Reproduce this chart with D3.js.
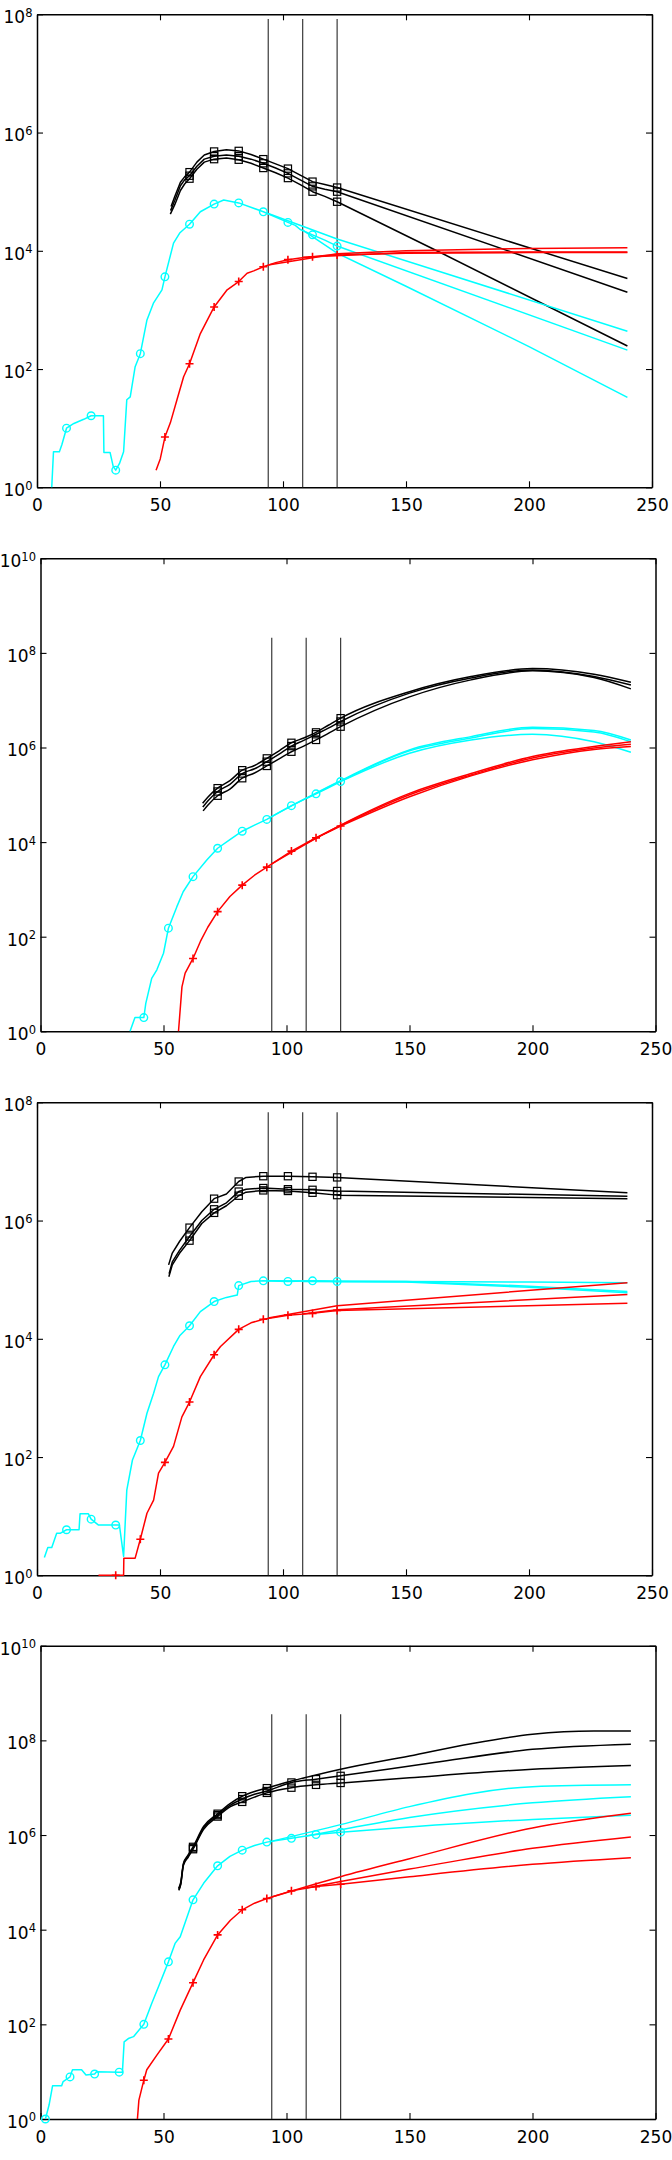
<!DOCTYPE html>
<html><head><meta charset="utf-8">
<script src="https://cdn.jsdelivr.net/npm/d3@7"></script>
<style>
body{margin:0;background:#fff}
svg{display:block}
text{font-family:"DejaVu Sans",sans-serif;fill:#000}
</style>
</head><body>
<svg id="c" width="672" height="2160"></svg>
<script>
// ---------------- DATA (values are log10 of y) ----------------
const xTicks = [0, 50, 100, 150, 200, 250];
const markerDays = [2, 12, 22, 32, 42, 52, 62, 72, 82, 92, 102, 112, 122];
const forecastDays = [94, 108, 122];
const yExp8 = [0, 2, 4, 6, 8];
const yExp10 = [0, 2, 4, 6, 8, 10];
const vlineTopExp = [7.92, 8.32, 7.83, 8.55];

// Panel 1
const p1Black = [
  [[54.5,4.75],[56,4.92],[58.3,5.16],[60,5.25],[62,5.33],[65,5.5],[68,5.62],[72,5.68],[77,5.71],[82,5.69],[87,5.63],[92,5.55],[97,5.47],[102,5.39],[107,5.28],[112,5.17],[117,5.12],[122,5.07],[240,3.53]],
  [[54.3,4.68],[56,4.85],[58.3,5.1],[60,5.2],[62,5.27],[65,5.43],[68,5.55],[72,5.60],[77,5.62],[82,5.60],[87,5.55],[92,5.48],[97,5.4],[102,5.31],[107,5.2],[112,5.09],[117,5.04],[122,5.0],[240,3.30]],
  [[54.2,4.62],[56,4.78],[58.3,5.02],[60,5.13],[62,5.22],[65,5.38],[68,5.5],[72,5.55],[77,5.57],[82,5.54],[87,5.48],[92,5.40],[97,5.32],[102,5.23],[107,5.12],[112,5.0],[117,4.92],[122,4.83],[165,3.95],[240,2.39]]
];
const p1Cyan = [[6,0],[6.7,0.6],[9.1,0.6],[10.1,0.72],[12,1.0],[15,1.08],[19,1.15],[22,1.21],[27,1.21],[27.2,0.59],[29.7,0.59],[31,0.35],[32,0.29],[33.5,0.4],[35.2,0.6],[36.5,1.48],[37.9,1.53],[39.9,2.04],[42,2.26],[44.7,2.83],[47.4,3.12],[50.8,3.34],[52,3.56],[55.5,4.13],[58,4.3],[62,4.45],[66.4,4.66],[72,4.79],[75.9,4.86],[82,4.81],[92,4.66],[102,4.48],[105,4.43],[107,4.36],[112,4.27],[117,4.18],[122,4.08]];
const p1CyanFc = [
  [[94,4.63],[122,4.20],[240,2.64]],
  [[108,4.35],[122,3.96],[150,3.40],[200,2.38],[240,1.52]],
  [[122,4.08],[240,2.32]]
];
const p1Red = [[48.4,0.29],[50.1,0.48],[52,0.85],[54.2,1.09],[56.9,1.48],[59.6,1.87],[62,2.09],[66.4,2.6],[72,3.05],[77.3,3.34],[82,3.48],[85.4,3.62],[88.1,3.66],[92,3.73],[97,3.8],[102,3.85],[107,3.88],[112,3.90],[117,3.92],[122,3.93]];
const p1RedFc = [
  [[94,3.76],[122,3.95],[150,4.0],[200,4.04],[240,4.05]],
  [[108,3.89],[150,3.97],[200,3.98],[240,3.98]],
  [[122,3.93],[150,3.96],[200,3.97],[240,3.97]]
];

// Panel 2
const p2Black = [
  [[65.9,4.82],[68,4.95],[72,5.14],[77,5.3],[82,5.52],[87,5.62],[92,5.77],[97,5.93],[102,6.10],[107,6.2],[112,6.32],[117,6.47],[122,6.62],[150,7.18],[175,7.5],[200,7.67],[225,7.55],[240,7.38]],
  [[66,4.74],[68,4.87],[72,5.07],[77,5.22],[82,5.45],[87,5.55],[92,5.70],[97,5.86],[102,6.03],[107,6.15],[112,6.28],[117,6.41],[122,6.55],[150,7.15],[175,7.47],[200,7.64],[225,7.5],[240,7.32]],
  [[66.1,4.66],[68,4.78],[72,4.98],[77,5.12],[82,5.35],[87,5.46],[92,5.61],[97,5.76],[102,5.91],[107,6.03],[112,6.16],[117,6.30],[122,6.44],[150,7.07],[175,7.43],[200,7.62],[225,7.48],[240,7.24]]
];
const p2Cyan = [[36.4,0],[38.4,0.29],[42,0.29],[42.8,0.59],[45.2,1.12],[47.3,1.30],[50,1.65],[52,2.18],[55.4,2.63],[58,2.95],[62,3.27],[67.6,3.62],[72,3.87],[77,4.05],[82,4.23],[87,4.36],[92,4.48],[97,4.63],[102,4.77],[107,4.9],[112,5.02],[117,5.15],[122,5.28]];
const p2CyanFc = [
  [[94,4.54],[122,5.30],[150,5.95],[175,6.23],[200,6.43],[225,6.36],[240,6.16]],
  [[108,4.92],[122,5.29],[150,5.93],[175,6.2],[200,6.40],[225,6.33],[240,6.12]],
  [[122,5.28],[150,5.88],[175,6.16],[200,6.28],[225,6.12],[240,5.90]]
];
const p2Red = [[56.1,0],[57.5,0.94],[58.8,1.23],[62,1.54],[65,1.9],[68,2.2],[72,2.53],[77,2.85],[82,3.09],[87,3.3],[92,3.47],[97,3.64],[102,3.81],[107,3.95],[112,4.09],[117,4.21],[122,4.34]];
const p2RedFc = [
  [[94,3.54],[122,4.36],[150,5.03],[175,5.45],[200,5.81],[225,6.02],[240,6.12]],
  [[108,3.98],[122,4.35],[150,5.0],[175,5.42],[200,5.78],[225,5.99],[240,6.07]],
  [[122,4.34],[150,4.96],[175,5.40],[200,5.74],[225,5.96],[240,6.02]]
];

// Panel 3
const p3Black = [
  [[53.5,5.25],[55,5.45],[58,5.65],[62,5.88],[67,6.15],[72,6.37],[77,6.45],[82,6.66],[85,6.73],[92,6.75],[102,6.75],[112,6.74],[122,6.73],[240,6.47]],
  [[53.7,5.1],[55,5.3],[58,5.5],[62,5.73],[67,6.0],[72,6.19],[77,6.3],[82,6.49],[85,6.53],[92,6.55],[102,6.53],[112,6.52],[122,6.50],[240,6.41]],
  [[53.6,5.05],[55,5.25],[58,5.45],[62,5.66],[67,5.95],[72,6.13],[77,6.25],[82,6.42],[85,6.48],[92,6.51],[102,6.50],[112,6.47],[122,6.43],[240,6.37]]
];
const p3Cyan = [[3,0.30],[4.4,0.47],[6,0.47],[8,0.71],[9.4,0.71],[12,0.77],[17.1,0.77],[17.5,1.04],[20.9,1.04],[22,0.95],[25,0.85],[32,0.85],[33.5,0.85],[35.2,0.32],[36.5,1.44],[38.8,1.95],[42,2.28],[44.7,2.74],[47.4,3.08],[49.4,3.36],[52,3.56],[55.5,3.87],[58,4.05],[62,4.22],[66.4,4.46],[72,4.63],[77,4.70],[81.4,4.74],[82,4.90],[87,4.97],[92,4.98],[102,4.97],[112,4.98],[122,4.97]];
const p3CyanFc = [
  [[94,4.98],[150,4.97],[200,4.89],[240,4.80]],
  [[108,4.97],[150,4.96],[200,4.87],[240,4.78]],
  [[122,4.97],[150,4.97],[200,4.96],[240,4.95]]
];
const p3Red = [[25,0],[32,0],[35.2,0],[35.3,0.29],[39.9,0.29],[42,0.61],[44.7,1.05],[47.4,1.27],[49.4,1.73],[52,1.91],[55.5,2.18],[58.9,2.68],[62,2.93],[66.4,3.36],[72,3.73],[74.6,3.87],[82,4.16],[87,4.27],[92,4.33],[102,4.40],[112,4.43],[122,4.48]];
const p3RedFc = [
  [[94,4.35],[122,4.56],[240,4.95]],
  [[108,4.42],[122,4.49],[240,4.75]],
  [[122,4.48],[240,4.60]]
];

// Panel 4
const p4Black = [
  [[56.1,4.87],[57,5.0],[58.1,5.40],[60,5.58],[62,5.75],[66.3,6.18],[72,6.45],[77.2,6.67],[82,6.82],[87,6.92],[92,6.99],[102,7.14],[112,7.27],[122,7.39],[150,7.67],[175,7.93],[200,8.13],[225,8.2],[240,8.20]],
  [[56.3,4.85],[57,4.97],[58.1,5.38],[60,5.55],[62,5.72],[66.3,6.15],[72,6.42],[77.2,6.63],[82,6.76],[87,6.86],[92,6.93],[102,7.11],[112,7.18],[122,7.25],[160,7.53],[200,7.81],[240,7.92]],
  [[56.2,4.83],[57,4.95],[58.1,5.36],[60,5.53],[62,5.70],[66.3,6.12],[72,6.39],[77.2,6.60],[82,6.70],[87,6.80],[92,6.89],[102,7.0],[112,7.06],[122,7.10],[150,7.21],[200,7.39],[240,7.47]]
];
const p4BlackMarkTo = [92, 122, 122];
const p4Cyan = [[2,0],[2.6,0.12],[3.5,0.30],[4.9,0.70],[8.6,0.70],[9.2,0.79],[12,0.89],[13,1.04],[16.7,1.04],[18.5,0.93],[22,0.95],[22.8,1.0],[32,0.99],[33.3,0.99],[34,1.63],[35.7,1.70],[37.8,1.74],[42,2.0],[45.2,2.44],[48,2.80],[52,3.32],[54.7,3.71],[56.8,3.85],[62,4.63],[66.3,4.98],[72,5.35],[77,5.55],[82,5.68],[87,5.78],[92,5.85],[102,5.93],[112,6.01],[122,6.06]];
const p4CyanFc = [
  [[94,5.87],[122,6.22],[150,6.60],[200,7.02],[240,7.06]],
  [[108,5.98],[122,6.11],[150,6.37],[200,6.68],[240,6.81]],
  [[122,6.06],[150,6.17],[200,6.33],[240,6.42]]
];
const p4Red = [[39.4,0],[40,0.4],[42,0.82],[43.2,1.04],[47.3,1.35],[52,1.69],[56.8,2.30],[62,2.88],[66.3,3.36],[72,3.89],[77.2,4.20],[82,4.42],[87,4.56],[92,4.66],[102,4.82],[112,4.91],[122,4.96]];
const p4RedFc = [
  [[94,4.69],[122,5.12],[150,5.50],[200,6.15],[240,6.46]],
  [[108,4.88],[122,5.02],[150,5.28],[200,5.72],[240,5.96]],
  [[122,4.96],[150,5.12],[200,5.38],[240,5.52]]
];

// ---------------- DRAWING ----------------
const panels = [
  {black:p1Black, blackMarkTo:[122,122,122], cyan:p1Cyan, cyanFc:p1CyanFc, red:p1Red, redFc:p1RedFc, yExp:yExp8, vTop:vlineTopExp[0]},
  {black:p2Black, blackMarkTo:[122,122,122], cyan:p2Cyan, cyanFc:p2CyanFc, red:p2Red, redFc:p2RedFc, yExp:yExp10, vTop:vlineTopExp[1]},
  {black:p3Black, blackMarkTo:[122,122,122], cyan:p3Cyan, cyanFc:p3CyanFc, red:p3Red, redFc:p3RedFc, yExp:yExp8, vTop:vlineTopExp[2]},
  {black:p4Black, blackMarkTo:p4BlackMarkTo, cyan:p4Cyan, cyanFc:p4CyanFc, red:p4Red, redFc:p4RedFc, yExp:yExp10, vTop:vlineTopExp[3]}
];
const layouts = [
  {left:37, right:652, top:14.3, bottom:487.3, curve:d3.curveLinear},
  {left:40.5, right:655.5, top:558.3, bottom:1031.3, curve:d3.curveMonotoneX},
  {left:37, right:652, top:1102.3, bottom:1575.3, curve:d3.curveLinear},
  {left:40.5, right:655.5, top:1645.7, bottom:2119, curve:d3.curveMonotoneX}
];
const CYAN = "#00ffff", RED = "#ff0000", BLACK = "#000000";
const svg = d3.select("#c");
svg.append("rect").attr("width",672).attr("height",2160).attr("fill","#fff");

panels.forEach((p, i) => {
  const L = layouts[i];
  const yMaxExp = p.yExp[p.yExp.length-1];
  const x = d3.scaleLinear().domain([0, 250]).range([L.left, L.right]);
  const y = d3.scaleLog().domain([1, Math.pow(10, yMaxExp)]).range([L.bottom, L.top]);
  const g = svg.append("g");
  const pt = d => [x(d[0]), y(Math.pow(10, d[1]))];

  const styleAxis = sel => {
    sel.select(".domain").attr("stroke", "#000").attr("stroke-width", 1.5);
    sel.selectAll(".tick line").attr("stroke", "#000").attr("stroke-width", 1.1);
  };
  const yVals = p.yExp.map(e => Math.pow(10, e));
  g.append("g").attr("transform", `translate(0,${L.bottom})`)
    .call(d3.axisBottom(x).tickValues(xTicks).tickSizeInner(-6).tickSizeOuter(0).tickPadding(12).tickFormat(d3.format("d")))
    .call(styleAxis)
    .call(s => s.selectAll(".tick text").attr("font-size", 17).attr("font-family", "DejaVu Sans").attr("fill", "#000"));
  g.append("g").attr("transform", `translate(0,${L.top})`)
    .call(d3.axisTop(x).tickValues(xTicks).tickSizeInner(-6).tickSizeOuter(0).tickFormat(() => ""))
    .call(styleAxis);
  g.append("g").attr("transform", `translate(${L.right},0)`)
    .call(d3.axisRight(y).tickValues(yVals).tickSizeInner(-6).tickSizeOuter(0).tickFormat(() => ""))
    .call(styleAxis);
  const ly = g.append("g").attr("transform", `translate(${L.left},0)`)
    .call(d3.axisLeft(y).tickValues(yVals).tickSizeInner(-6).tickSizeOuter(0).tickFormat(() => ""))
    .call(styleAxis);
  ly.selectAll(".tick text").remove();
  ly.selectAll(".tick").each(function(d) {
    const t = d3.select(this).append("text")
      .attr("x", -4.5).attr("y", 8.4).attr("text-anchor", "end")
      .attr("font-size", 17).attr("font-family", "DejaVu Sans").attr("fill", "#000");
    t.append("tspan").text("10");
    t.append("tspan").attr("dy", -6.5).attr("font-size", 11.5).text(String(Math.round(Math.log10(d))));
  });

  // vertical forecast-start lines
  g.selectAll(".vl").data(forecastDays).enter().append("line")
    .attr("x1", d => x(d)).attr("x2", d => x(d))
    .attr("y1", y(Math.pow(10, p.vTop))).attr("y2", y(1))
    .attr("stroke", "#3a3a3a").attr("stroke-width", 1.2);

  const lineLin = d3.line().x(d => pt(d)[0]).y(d => pt(d)[1]);
  const lineFc = d3.line().x(d => pt(d)[0]).y(d => pt(d)[1]).curve(L.curve);

  const drawPath = (data, color, gen) => g.append("path").datum(data)
    .attr("d", gen).attr("fill", "none").attr("stroke", color)
    .attr("stroke-width", 1.5).attr("stroke-linejoin", "round");

  const markPts = (data, markTo) => data.filter(d => markerDays.includes(d[0]) && d[0] <= markTo);

  // black
  p.black.forEach((ln, k) => {
    drawPath(ln, BLACK, lineFc);
    g.selectAll(null).data(markPts(ln, p.blackMarkTo[k])).enter().append("rect")
      .attr("x", d => pt(d)[0] - 3.6).attr("y", d => pt(d)[1] - 3.6)
      .attr("width", 7.2).attr("height", 7.2)
      .attr("fill", "none").attr("stroke", BLACK).attr("stroke-width", 1.2);
  });
  // cyan
  p.cyanFc.forEach(ln => drawPath(ln, CYAN, lineFc));
  drawPath(p.cyan, CYAN, lineLin);
  g.selectAll(null).data(markPts(p.cyan, 122)).enter().append("circle")
    .attr("cx", d => pt(d)[0]).attr("cy", d => pt(d)[1]).attr("r", 3.8)
    .attr("fill", "none").attr("stroke", CYAN).attr("stroke-width", 1.4);
  // red
  p.redFc.forEach(ln => drawPath(ln, RED, lineFc));
  drawPath(p.red, RED, lineLin);
  g.selectAll(null).data(markPts(p.red, 122)).enter().append("path")
    .attr("d", d => { const [cx, cy] = pt(d); return `M${cx-4},${cy}H${cx+4}M${cx},${cy-4}V${cy+4}`; })
    .attr("stroke", RED).attr("stroke-width", 1.6).attr("fill", "none");
});
</script>
</body></html>
